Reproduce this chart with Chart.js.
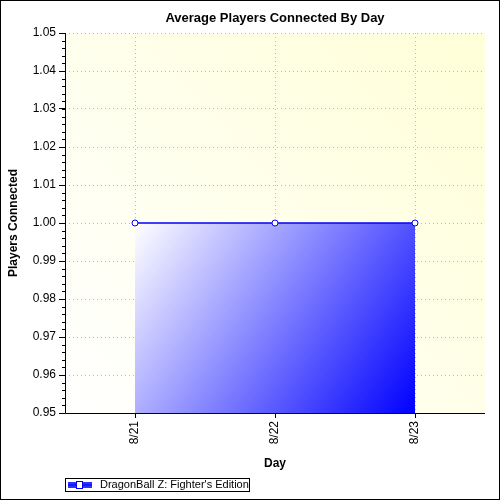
<!DOCTYPE html><html><head><script src="https://cdn.jsdelivr.net/npm/chart.js@4"></script>
<style>body{margin:0;background:#fff}#w{width:500px;height:500px}</style></head><body><div id="w"><canvas id="c" width="500" height="500"></canvas></div>
<script>
const categories=['8/21','8/22','8/23'];
const values=[1.0,1.0,1.0];
const seriesName="DragonBall Z: Fighter's Edition";
const yMin=0.95,yMax=1.05,yStep=0.01;
const deco={id:'deco',
beforeDraw(c){const {ctx,chartArea:a}=c;ctx.save();
const g=ctx.createLinearGradient(a.left,a.bottom,a.right,a.top);g.addColorStop(0,'#ffffff');g.addColorStop(1,'#ffffd8');
ctx.fillStyle=g;ctx.fillRect(a.left,a.top,a.right-a.left,a.bottom-a.top);ctx.restore();},
afterDraw(c){const {ctx,chartArea:a}=c;ctx.save();
ctx.strokeStyle='#000';ctx.lineWidth=1;ctx.strokeRect(0.5,0.5,499,499);
ctx.font='bold 13px Arial, Liberation Sans';ctx.fillStyle='#000';ctx.textAlign='center';ctx.textBaseline='middle';
ctx.fillText('Average Players Connected By Day',(a.left+a.right)/2,18);
ctx.font='bold 12px Arial, Liberation Sans';ctx.fillText('Day',(a.left+a.right)/2,464);
const y=c.scales.y;ctx.beginPath();
for(let v=yMin;v<=yMax+1e-9;v+=0.002){const p=Math.round(y.getPixelForValue(v))+0.5;ctx.moveTo(a.left-3,p);ctx.lineTo(a.left,p);}
ctx.stroke();
ctx.beginPath();ctx.moveTo(a.left+0.5,a.top);ctx.lineTo(a.left+0.5,a.bottom+0.5);ctx.lineTo(a.right,a.bottom+0.5);ctx.stroke();
ctx.strokeRect(65.5,478.5,184,13);
ctx.fillStyle='#3030ff';ctx.fillRect(68,482,24,6);ctx.strokeStyle='#0000ff';
ctx.beginPath();ctx.moveTo(68,485);ctx.lineTo(92,485);ctx.stroke();
ctx.fillStyle='#fff';ctx.fillRect(76,481,7,8);ctx.strokeRect(76.5,481.5,6,7);
ctx.fillStyle='#000';ctx.font='11px Arial, Liberation Sans';ctx.textAlign='left';ctx.fillText(seriesName,100,485);
ctx.restore();}};
new Chart(document.getElementById('c'),{type:'line',
data:{labels:categories,datasets:[{label:seriesName,data:values,borderColor:'#0000ff',borderWidth:1.5,
pointBackgroundColor:'#fff',pointBorderColor:'#0000ff',pointRadius:3,pointBorderWidth:1,tension:0,
fill:'start',backgroundColor(ctx){const c=ctx.chart,a=c.chartArea;if(!a)return '#00f';
const x0=c.scales.x.getPixelForValue(0),x1=c.scales.x.getPixelForValue(2),yt=c.scales.y.getPixelForValue(1);
const g=c.ctx.createLinearGradient(x0,yt,x1,a.bottom);g.addColorStop(0,'#ffffff');g.addColorStop(1,'#0000ff');return g;}}]},
options:{responsive:false,animation:false,layout:{padding:{top:33,right:15,left:0,bottom:0}},
plugins:{legend:{display:false},tooltip:{enabled:false}},
scales:{x:{offset:true,afterFit(s){s.height=87;},
grid:{color:'#bbbbbb',tickColor:'#000',tickLength:5,offset:false,tickBorderDash:[]},border:{display:false,dash:[1,3]},
ticks:{color:'#000',font:{size:12,family:'Arial, Liberation Sans'},minRotation:90,maxRotation:90,padding:3}},
y:{min:yMin,max:yMax,afterFit(s){s.width=65;},afterBuildTicks(s){s.ticks=[];for(let i=0;i<=10;i++)s.ticks.push({value:+(yMin+i*yStep).toFixed(2)});},
grid:{color:'#bbbbbb',tickColor:'#000',tickLength:6,tickBorderDash:[]},border:{display:false,dash:[1,3]},
ticks:{color:'#000',font:{size:12,family:'Arial, Liberation Sans'},callback:v=>v.toFixed(2),padding:3},
title:{display:true,text:'Players Connected',color:'#000',font:{size:12,weight:'bold',family:'Arial, Liberation Sans'},padding:{top:6,bottom:2}}}}},
plugins:[deco]});
</script></body></html>
